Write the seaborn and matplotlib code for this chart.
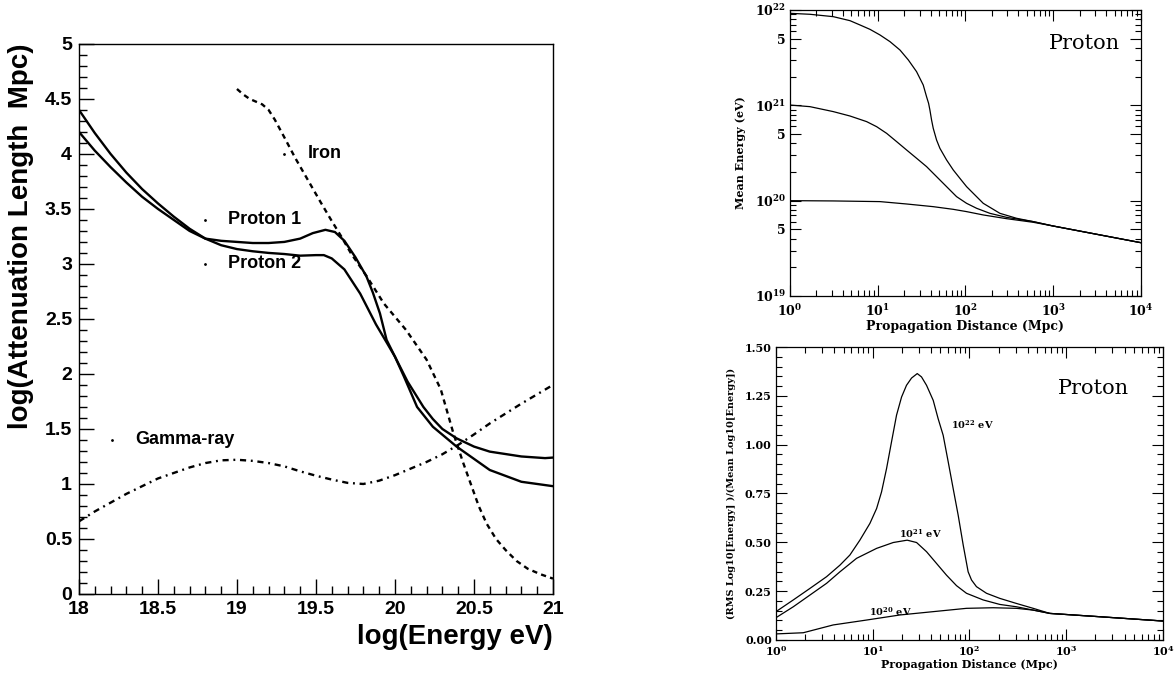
import matplotlib
matplotlib.use("Agg")
import matplotlib.pyplot as plt
from matplotlib.ticker import MultipleLocator, FixedLocator, FixedFormatter, NullFormatter
import seaborn as sns

# ---- left panel: log(E/eV) vs log(attenuation length / Mpc) ----
proton1_loge = [18.0, 18.1, 18.2, 18.3, 18.4, 18.5, 18.6, 18.7, 18.8, 18.9, 19.0, 19.1, 19.2,
                19.3, 19.4, 19.48, 19.56, 19.62, 19.68, 19.75, 19.82, 19.86, 19.905, 19.947,
                20.0, 20.057, 20.14, 20.24, 20.39, 20.6, 20.8, 21.0]
proton1_att = [4.20, 4.03, 3.88, 3.74, 3.61, 3.50, 3.40, 3.30, 3.23, 3.21, 3.20, 3.19, 3.19,
               3.20, 3.23, 3.28, 3.31, 3.29, 3.21, 3.06, 2.885, 2.74, 2.55, 2.31,
               2.157, 1.976, 1.70, 1.52, 1.34, 1.127, 1.02, 0.98]

proton2_loge = [18.0, 18.1, 18.2, 18.3, 18.4, 18.5, 18.6, 18.7, 18.8, 18.9, 19.0, 19.1, 19.2,
                19.3, 19.4, 19.5, 19.55, 19.6, 19.68, 19.78, 19.88, 19.95, 20.0, 20.08,
                20.18, 20.24, 20.3, 20.39, 20.5, 20.6, 20.8, 20.95, 21.0]
proton2_att = [4.40, 4.19, 4.00, 3.83, 3.68, 3.55, 3.43, 3.32, 3.23, 3.17, 3.135, 3.115, 3.10,
               3.09, 3.075, 3.08, 3.08, 3.05, 2.95, 2.73, 2.45, 2.28, 2.157, 1.93,
               1.70, 1.59, 1.50, 1.415, 1.34, 1.294, 1.25, 1.235, 1.24]

iron_loge = [19.0, 19.04, 19.08, 19.12, 19.16, 19.2, 19.24, 19.3, 19.37, 19.45, 19.53, 19.6,
             19.66, 19.72, 19.82, 19.93, 20.07, 20.2, 20.29, 20.37, 20.43, 20.48, 20.53,
             20.58, 20.64, 20.7, 20.77, 20.84, 20.92, 21.0]
iron_att = [4.59, 4.54, 4.50, 4.475, 4.45, 4.40, 4.31, 4.15, 3.96, 3.76, 3.56, 3.39,
            3.25, 3.10, 2.89, 2.64, 2.40, 2.13, 1.86, 1.46, 1.20, 1.00, 0.80,
            0.64, 0.50, 0.40, 0.30, 0.23, 0.18, 0.14]

gamma_loge = [18.0, 18.1, 18.2, 18.3, 18.4, 18.5, 18.6, 18.7, 18.8, 18.9, 19.0, 19.1, 19.2,
              19.3, 19.4, 19.5, 19.6, 19.7, 19.8, 19.9, 20.0, 20.1, 20.2, 20.3, 20.4, 20.5,
              20.6, 20.7, 20.8, 20.9, 21.0]
gamma_att = [0.66, 0.75, 0.83, 0.91, 0.98, 1.05, 1.10, 1.15, 1.19, 1.215, 1.22, 1.21, 1.19,
             1.16, 1.115, 1.075, 1.04, 1.01, 1.00, 1.03, 1.08, 1.14, 1.20, 1.27, 1.355, 1.45,
             1.55, 1.64, 1.73, 1.815, 1.90]

left_labels = ["Iron", "Proton 1", "Proton 2", "Gamma-ray"]
left_label_x = [19.30, 18.80, 18.80, 18.21]
left_label_y = [4.00, 3.40, 3.00, 1.40]

# ---- top right: log10(mean energy / eV) vs log10(distance / Mpc) ----
logd_e22 = [0, 0.228, 0.494, 0.684, 0.798, 0.912, 1.026, 1.14, 1.254, 1.349, 1.443, 1.519,
            1.557, 1.58, 1.595, 1.614, 1.633, 1.671, 1.709, 1.785, 1.861, 1.937, 2.013, 2.127,
            2.203, 2.393, 2.583, 2.773, 3.0, 4.0]
loge_e22 = [21.965, 21.955, 21.93, 21.888, 21.843, 21.797, 21.738, 21.668, 21.58, 21.476,
            21.353, 21.213, 21.09, 21.021, 20.951, 20.846, 20.759, 20.636, 20.549, 20.427,
            20.322, 20.234, 20.147, 20.042, 19.972, 19.867, 19.815, 19.78, 19.734, 19.559]
logd_e21 = [0, 0.228, 0.494, 0.684, 0.874, 0.988, 1.102, 1.216, 1.33, 1.444, 1.557, 1.671,
            1.785, 1.899, 2.013, 2.127, 2.279, 2.469, 2.773, 3.0, 4.0]
loge_e21 = [21.003, 20.986, 20.934, 20.888, 20.829, 20.776, 20.706, 20.619, 20.531, 20.444,
            20.357, 20.252, 20.147, 20.042, 19.972, 19.92, 19.867, 19.825, 19.78, 19.734, 19.559]
logd_e20 = [0, 0.494, 1.026, 1.33, 1.633, 1.861, 2.013, 2.203, 2.469, 2.773, 3.0, 4.0]
loge_e20 = [20.0, 19.997, 19.99, 19.965, 19.937, 19.909, 19.885, 19.85, 19.811, 19.773,
            19.734, 19.559]

# ---- bottom right: RMS / mean of log10(E) vs log10(distance / Mpc) ----
logd_r22 = [0, 0.179, 0.351, 0.523, 0.661, 0.764, 0.867, 0.971, 1.04, 1.091, 1.143, 1.194,
            1.246, 1.298, 1.349, 1.401, 1.46, 1.504, 1.556, 1.625, 1.676, 1.728, 1.78, 1.831,
            1.883, 1.935, 1.986, 2.021, 2.072, 2.176, 2.313, 2.485, 2.658, 2.83, 3.346, 4.0]
rms_r22 = [0.145, 0.205, 0.264, 0.324, 0.383, 0.435, 0.511, 0.597, 0.673, 0.758, 0.878, 1.014,
           1.151, 1.244, 1.304, 1.341, 1.364, 1.347, 1.304, 1.227, 1.133, 1.048, 0.912, 0.776,
           0.639, 0.486, 0.349, 0.307, 0.273, 0.239, 0.213, 0.187, 0.162, 0.136, 0.119, 0.097]
logd_r21 = [0, 0.179, 0.351, 0.523, 0.661, 0.833, 1.04, 1.212, 1.356, 1.453, 1.556, 1.659,
            1.762, 1.866, 1.969, 2.141, 2.313, 2.485, 2.658, 2.83, 3.346, 4.0]
rms_r21 = [0.114, 0.17, 0.23, 0.29, 0.349, 0.418, 0.469, 0.499, 0.511, 0.499, 0.452, 0.392,
           0.332, 0.278, 0.239, 0.205, 0.182, 0.17, 0.153, 0.136, 0.119, 0.097]
logd_r20 = [0, 0.282, 0.592, 0.936, 1.281, 1.625, 1.969, 2.244, 2.485, 2.658, 2.83, 3.346, 4.0]
rms_r20 = [0.031, 0.037, 0.077, 0.102, 0.128, 0.145, 0.162, 0.165, 0.162, 0.153, 0.136,
           0.119, 0.097]

rms_labels = [r"$10^{22}$ eV", r"$10^{21}$ eV", r"$10^{20}$ eV"]
rms_label_x = [65, 18.8, 9.2]
rms_label_y = [1.10, 0.545, 0.145]

sns.set_style("ticks")
plt.rcParams['font.family'] = ['Liberation Sans', 'DejaVu Sans']
plt.rcParams['mathtext.fontset'] = 'dejavuserif'
plt.rcParams['mathtext.default'] = 'bf'
for key in ['text.color', 'axes.labelcolor', 'xtick.color', 'ytick.color', 'axes.edgecolor']:
    plt.rcParams[key] = 'black'

fig = plt.figure(figsize=(11.75, 6.75), dpi=100)

# ================= left panel =================
ax = fig.add_axes([0.0672, 0.12, 0.4034, 0.815])
sns.lineplot(x=proton1_loge, y=proton1_att, ax=ax, color='black', lw=1.7, sort=False, estimator=None)
sns.lineplot(x=proton2_loge, y=proton2_att, ax=ax, color='black', lw=1.7, sort=False, estimator=None)
sns.lineplot(x=iron_loge, y=iron_att, ax=ax, color='black', lw=1.7, sort=False, estimator=None)
ax.lines[-1].set_dashes([2.2, 1.8])
sns.lineplot(x=gamma_loge, y=gamma_att, ax=ax, color='black', lw=1.7, sort=False, estimator=None)
ax.lines[-1].set_dashes([2.6, 2.0, 0.8, 2.0])

for name, lx, ly in zip(left_labels, left_label_x, left_label_y):
    ax.plot(lx, ly, marker='.', ms=2, color='black')
    ax.text(lx + 0.145, ly, name, fontsize=13, fontweight='bold', va='center', ha='left')

ax.set_xlim(18, 21)
ax.set_ylim(0, 5)
ax.xaxis.set_major_locator(FixedLocator([18, 18.5, 19, 19.5, 20, 20.5, 21]))
ax.xaxis.set_major_formatter(FixedFormatter(["18", "18.5", "19", "19.5", "20", "20.5", "21"]))
ax.xaxis.set_minor_locator(MultipleLocator(0.1))
ax.yaxis.set_major_locator(FixedLocator([0, 0.5, 1, 1.5, 2, 2.5, 3, 3.5, 4, 4.5, 5]))
ax.yaxis.set_major_formatter(FixedFormatter(["0", "0.5", "1", "1.5", "2", "2.5", "3", "3.5", "4", "4.5", "5"]))
ax.yaxis.set_minor_locator(MultipleLocator(0.1))
ax.tick_params(which='both', direction='in', top=False, right=False, width=1, color='black')
ax.tick_params(which='major', length=11, labelsize=14, pad=5)
ax.tick_params(which='minor', length=6)
for lab in ax.get_xticklabels() + ax.get_yticklabels():
    lab.set_fontweight('bold')
for sp in ax.spines.values():
    sp.set_visible(True)
    sp.set_linewidth(1)
ax.set_xlabel("log(Energy eV)", fontsize=20, fontweight='bold', loc='right', labelpad=4)
ax.set_ylabel("log(Attenuation Length  Mpc)", fontsize=20, fontweight='bold', loc='top', labelpad=8)


def style_right(a, lsize):
    a.tick_params(which='both', direction='in', top=True, right=True, width=0.8, color='black')
    a.tick_params(which='major', length=8, labelsize=lsize, pad=3)
    a.tick_params(which='minor', length=4)
    for lab in a.get_xticklabels() + a.get_yticklabels():
        lab.set_fontfamily('DejaVu Serif')
        lab.set_fontweight('bold')
    for sp in a.spines.values():
        sp.set_visible(True)
        sp.set_linewidth(0.9)


decade_labels = [r"$10^{0}$", r"$10^{1}$", r"$10^{2}$", r"$10^{3}$", r"$10^{4}$"]
dist_minor = [m * 10.0 ** d for d in range(4) for m in range(2, 10)]

# ================= top right =================
ax2 = fig.add_axes([0.6723, 0.5615, 0.2987, 0.4237])
for lx, ly in [(logd_e22, loge_e22), (logd_e21, loge_e21), (logd_e20, loge_e20)]:
    sns.lineplot(x=[10.0 ** v for v in lx], y=[10.0 ** v for v in ly], ax=ax2, color='black',
                 lw=0.9, sort=False, estimator=None)
ax2.set_xscale('log')
ax2.set_yscale('log')
ax2.set_xlim(1, 1e4)
ax2.set_ylim(1e19, 1e22)
ax2.xaxis.set_major_locator(FixedLocator([1, 10, 100, 1e3, 1e4]))
ax2.xaxis.set_major_formatter(FixedFormatter(decade_labels))
ax2.xaxis.set_minor_locator(FixedLocator(dist_minor))
ax2.xaxis.set_minor_formatter(NullFormatter())
ax2.yaxis.set_major_locator(FixedLocator([1e19, 5e19, 1e20, 5e20, 1e21, 5e21, 1e22]))
ax2.yaxis.set_major_formatter(FixedFormatter([r"$10^{19}$", "5", r"$10^{20}$", "5", r"$10^{21}$", "5", r"$10^{22}$"]))
ax2.yaxis.set_minor_locator(FixedLocator([m * 10.0 ** d for d in range(19, 22) for m in (2, 3, 4, 6, 7, 8, 9)]))
ax2.yaxis.set_minor_formatter(NullFormatter())
style_right(ax2, 9)
ax2.tick_params(axis='x', which='major', pad=5)
ax2.set_xlabel("Propagation Distance (Mpc)", fontsize=9, fontweight='bold', family='DejaVu Serif', labelpad=1)
ax2.set_ylabel("Mean Energy (eV)", fontsize=8, fontweight='bold', family='DejaVu Serif', labelpad=6)
ax2.text(900, 4.5e21, "Proton", fontsize=15, family='DejaVu Serif', va='center', ha='left')

# ================= bottom right =================
ax3 = fig.add_axes([0.6604, 0.0519, 0.3294, 0.434])
for lx, ly in [(logd_r22, rms_r22), (logd_r21, rms_r21), (logd_r20, rms_r20)]:
    sns.lineplot(x=[10.0 ** v for v in lx], y=ly, ax=ax3, color='black', lw=0.9,
                 sort=False, estimator=None)
ax3.set_xscale('log')
ax3.set_xlim(1, 1e4)
ax3.set_ylim(0, 1.5)
ax3.xaxis.set_major_locator(FixedLocator([1, 10, 100, 1e3, 1e4]))
ax3.xaxis.set_major_formatter(FixedFormatter(decade_labels))
ax3.xaxis.set_minor_locator(FixedLocator(dist_minor))
ax3.xaxis.set_minor_formatter(NullFormatter())
ax3.yaxis.set_major_locator(FixedLocator([0, 0.25, 0.5, 0.75, 1.0, 1.25, 1.5]))
ax3.yaxis.set_major_formatter(FixedFormatter(["0.00", "0.25", "0.50", "0.75", "1.00", "1.25", "1.50"]))
ax3.yaxis.set_minor_locator(MultipleLocator(0.05))
style_right(ax3, 8)
ax3.set_xlabel("Propagation Distance (Mpc)", fontsize=8, fontweight='bold', family='DejaVu Serif', labelpad=1)
ax3.set_ylabel("(RMS Log10[Energy] )/(Mean Log10[Energy])", fontsize=7, fontweight='bold',
               family='DejaVu Serif', labelpad=6)
for name, lx, ly in zip(rms_labels, rms_label_x, rms_label_y):
    ax3.text(lx, ly, name, fontsize=7, fontweight='bold', family='DejaVu Serif', va='center', ha='left')
ax3.text(820, 1.287, "Proton", fontsize=15, family='DejaVu Serif', va='center', ha='left')

fig.savefig("out.png", dpi=100)
